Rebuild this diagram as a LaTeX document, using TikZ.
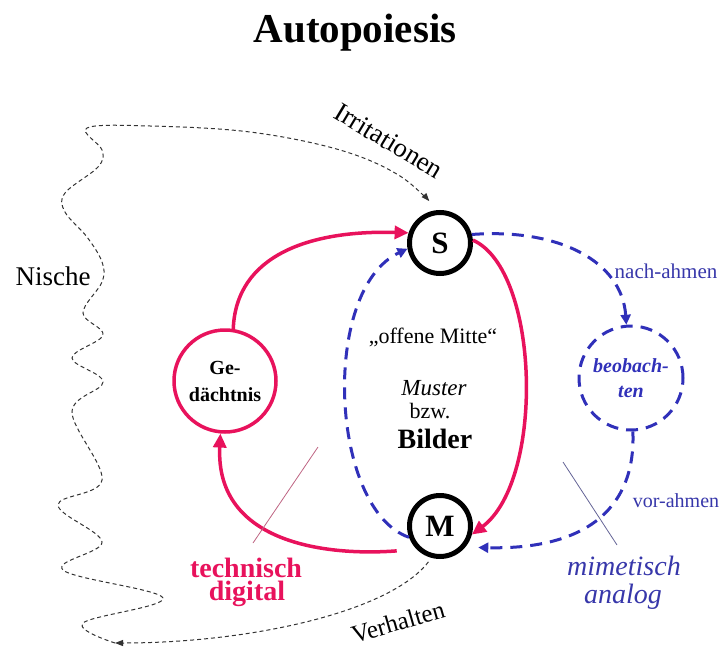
\documentclass[tikz,border=0pt]{standalone}
\usepackage{fontspec}
\setmainfont{Liberation Serif}
\usetikzlibrary{arrows.meta}
\definecolor{pinkc}{RGB}{232,18,92}
\definecolor{bluec}{RGB}{48,48,185}
\definecolor{bluetext}{RGB}{55,55,170}
\definecolor{thinpinkc}{RGB}{190,100,130}
\definecolor{thinbluec}{RGB}{100,100,150}
\newcommand{\myfs}[1]{\fontsize{#1}{#1}\selectfont}
\begin{document}
\begin{tikzpicture}[x=1pt,y=-1pt,
 sm/.style={circle,draw=black,line width=5pt,minimum size=61pt,inner sep=0pt,font=\bfseries\myfs{31}},
 gcirc/.style={circle,draw=pinkc,line width=3.5pt,minimum size=102pt,inner sep=1pt,align=center,font=\bfseries\fontsize{20}{27}\selectfont},
 bcirc/.style={circle,draw=bluec,line width=3pt,dash pattern=on 12pt off 8pt,minimum size=104pt,inner sep=1pt,align=center,text=bluec,font=\bfseries\itshape\fontsize{20}{25}\selectfont},
 pinkarr/.style={draw=pinkc,line width=3.5pt,-{Triangle[length=14pt,width=13pt]}},
 bluearr/.style={draw=bluec,line width=3pt,dash pattern=on 12pt off 8pt,-{Triangle[length=10pt,width=10pt]}},
 dotarr/.style={draw=black!80,line width=1pt,dash pattern=on 4pt off 3pt,-{Triangle[length=8pt,width=6pt]}},
 lbl/.style={inner sep=0pt,anchor=base},
]
\useasboundingbox (0,0) rectangle (725,650);

% main nodes
\node[sm] (S) at (440,243) {S};
\node[sm] (M) at (440,526) {M};
\node[gcirc] (G) at (225,381) {Ge-\\dächtnis};
\node[bcirc] (B) at (631,378) {beobach-\\ten};

% texts
\node[lbl,font=\bfseries\myfs{41}] (title) at (355,43) {Autopoiesis};
\node[lbl,font=\myfs{27}] (nische) at (53,285) {Nische};
\node[font=\myfs{27},rotate=-31,inner sep=0pt] (irr) at (389,141) {Irritationen};
\node[font=\myfs{25},rotate=16,inner sep=0pt] (verh) at (398,622) {Verhalten};
\node[lbl,font=\myfs{21},text=bluetext] (nach) at (666,278) {nach-ahmen};
\node[lbl,font=\myfs{20},text=bluetext] (vor) at (676,507) {vor-ahmen};
\node[lbl,font=\myfs{22}] (offen) at (433,343) {„offene Mitte“};
\node[lbl,font=\itshape\myfs{23}] (muster) at (434,395) {Muster};
\node[lbl,font=\myfs{22}] (bzw) at (430,418) {bzw.};
\node[lbl,font=\bfseries\myfs{28}] (bilder) at (435,448) {Bilder};
\node[lbl,font=\bfseries\myfs{28},text=pinkc] (tech) at (246,577) {technisch};
\node[lbl,font=\bfseries\myfs{28},text=pinkc] (digi) at (247,600) {digital};
\node[lbl,font=\itshape\myfs{28},text=bluetext] (mim) at (624,575) {mimetisch};
\node[lbl,font=\itshape\myfs{28},text=bluetext] (ana) at (623,603) {analog};

% pink arrows
\draw[pinkarr] (G.81) .. controls (236,255) and (310,230) .. (S.162);
\draw[pinkarr] (S.5) .. controls (540,270) and (545,480) .. (M.-15);
\draw[pinkarr, shorten <=20pt] (M.225) .. controls (330,556) and (215,545) .. (G.265);

% blue dashed arrows
\draw[bluearr] (M.200) .. controls (330,510) and (320,290) .. (S.190);
\draw[bluearr] (S.15) .. controls (560,228) and (622,262) .. (B.95);
\draw[bluearr, shorten >=13pt] (B.-88) .. controls (636,505) and (590,550) .. (M.-40);

% dotted arrows
\coordinate (nb) at (115,643);
\draw[dotarr, shorten <=5pt] (M.255) .. controls (390,612) and (250,643) .. (nb);
\draw[dotarr, shorten >=12pt] plot[smooth,tension=0.6] coordinates {(nb) (83,623) (163,598) (63,570) (102,542) (58,505) (102,480) (72,412) (103,382) (72,358) (103,335) (83,313) (102,282) (102,262) (87,237) (65,212) (65,193) (98,167) (102,150) (87,128) (150,126) (250,132) (340,150) (400,176) (S.95)};

% thin pointer lines
\coordinate (tp1) at (253,543);
\coordinate (tp2) at (318,447);
\draw[thinpinkc, line width=0.8pt] (tp1) -- (tp2);
\coordinate (tb1) at (563,462);
\coordinate (tb2) at (617,545);
\draw[thinbluec, line width=0.8pt] (tb1) -- (tb2);
\end{tikzpicture}
\end{document}
